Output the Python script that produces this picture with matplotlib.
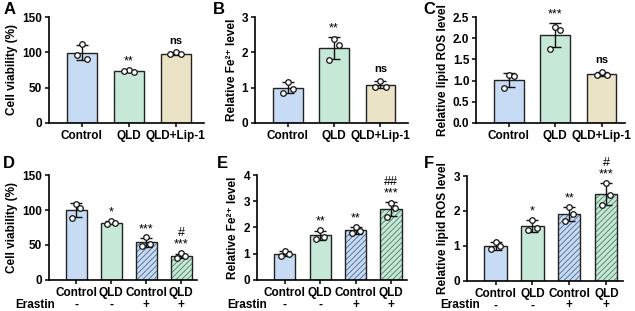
import numpy as np
import matplotlib
matplotlib.use("Agg")
import matplotlib.pyplot as plt

plt.rcParams['font.family'] = ['Liberation Sans', 'DejaVu Sans']
plt.rcParams['font.weight'] = 'bold'
plt.rcParams['axes.labelweight'] = 'bold'
plt.rcParams['hatch.linewidth'] = 0.7

# ---- data ----
groups_top = ['Control', 'QLD', 'QLD+Lip-1']
groups_bot = ['Control', 'QLD', 'Control', 'QLD']
erastin = ['-', '-', '+', '+']

a_pts = [[112, 91, 96], [75, 72, 73], [100, 97, 98]]
b_pts = [[1.17, 0.97, 0.85], [2.38, 2.22, 1.78], [1.20, 1.03, 1.02]]
c_pts = [[1.12, 1.10, 0.82], [2.27, 2.20, 1.75], [1.20, 1.13, 1.13]]
d_pts = [[109, 103, 89], [84, 81, 80], [61, 52, 48], [38, 34, 32]]
e_pts = [[1.12, 1.00, 0.90], [1.90, 1.65, 1.55], [2.03, 1.85, 1.78], [2.92, 2.75, 2.40]]
f_pts = [[1.12, 1.00, 0.90], [1.75, 1.50, 1.45], [2.12, 1.90, 1.72], [2.80, 2.45, 2.17]]

a_sig = ['', '**', 'ns']
b_sig = ['', '**', 'ns']
c_sig = ['', '***', 'ns']
d_sig = ['', '*', '***', '#\n***']
e_sig = ['', '**', '**', '##\n***']
f_sig = ['', '*', '**', '#\n***']

blue = '#c8dbf4'
green = '#c6e8d6'
beige = '#ebe3c6'
top_colors = [blue, green, beige]
bot_colors = [blue, green, blue, green]
bot_hatch = [None, None, '#5a7699', '#5b8a6e']
offsets = [0.0, 0.11, -0.11]
fe_label = 'Relative Fe\u00b2\u207a level'


def panel(ax, pts, labels, colors, sig, ylim, yticks, ylabel, width, xlim,
          hatch=None, yfmt=None):
    x = np.arange(len(pts))
    means = [np.mean(p) for p in pts]
    sds = [np.std(p, ddof=1) for p in pts]
    for i in range(len(pts)):
        if hatch is not None and hatch[i] is not None:
            ax.bar(x[i], means[i], width, color=colors[i], edgecolor=hatch[i],
                   linewidth=0, hatch='//////', zorder=1)
            ax.bar(x[i], means[i], width, fill=False, edgecolor='#222222',
                   linewidth=1.0, zorder=2)
        else:
            ax.bar(x[i], means[i], width, color=colors[i], edgecolor='#222222',
                   linewidth=1.0, zorder=2)
    ax.errorbar(x, means, yerr=sds, fmt='none', ecolor='#111111',
                elinewidth=1.0, capsize=4, capthick=1.0, zorder=3)
    for i, p in enumerate(pts):
        ax.plot(x[i] + np.array(offsets[:len(p)]), p, 'o', ms=4, mfc='white',
                mec='#111111', mew=0.9, zorder=4)
    for i, s in enumerate(sig):
        if not s:
            continue
        top = means[i] + sds[i]
        if s == 'ns':
            ax.annotate(s, (x[i], top), xytext=(0, 5), textcoords='offset points',
                        ha='center', va='bottom', fontsize=8, fontweight='bold')
        else:
            ax.annotate(s, (x[i], top), xytext=(0, 2), textcoords='offset points',
                        ha='center', va='bottom', fontsize=9, fontweight='normal',
                        linespacing=1.0)
    ax.set_ylim(*ylim)
    ax.set_yticks(yticks)
    if yfmt:
        ax.set_yticklabels([yfmt.format(t) for t in yticks])
    ax.set_xlim(*xlim)
    ax.set_xticks(x)
    ax.set_xticklabels(labels)
    ax.set_ylabel(ylabel, fontsize=8.5, labelpad=3)
    for s in ['top', 'right']:
        ax.spines[s].set_visible(False)
    for s in ['left', 'bottom']:
        ax.spines[s].set_linewidth(1.2)
    ax.tick_params(axis='both', labelsize=8.5, width=1.1, length=3, pad=2)
    for t in ax.get_xticklabels() + ax.get_yticklabels():
        t.set_fontweight('bold')


fig = plt.figure(figsize=(6.35, 3.11), dpi=100)

axA = fig.add_axes([0.077, 0.605, 0.244, 0.34])
axB = fig.add_axes([0.402, 0.605, 0.241, 0.34])
axC = fig.add_axes([0.750, 0.605, 0.234, 0.34])
axD = fig.add_axes([0.077, 0.10, 0.233, 0.337])
axE = fig.add_axes([0.405, 0.10, 0.236, 0.337])
axF = fig.add_axes([0.735, 0.097, 0.246, 0.337])

panel(axA, a_pts, groups_top, top_colors, a_sig, (0, 150), [0, 50, 100, 150],
      'Cell viability (%)', 0.64, (-0.7, 2.6))
panel(axB, b_pts, groups_top, top_colors, b_sig, (0, 3), [0, 1, 2, 3],
      fe_label, 0.64, (-0.7, 2.6))
panel(axC, c_pts, groups_top, top_colors, c_sig, (0, 2.5),
      [0, 0.5, 1.0, 1.5, 2.0, 2.5], 'Relative lipid ROS level', 0.64,
      (-0.7, 2.5), yfmt='{:.1f}')
panel(axD, d_pts, groups_bot, bot_colors, d_sig, (0, 150), [0, 50, 100, 150],
      'Cell viability (%)', 0.6, (-0.78, 3.45), hatch=bot_hatch)
panel(axE, e_pts, groups_bot, bot_colors, e_sig, (0, 4), [0, 1, 2, 3, 4],
      fe_label, 0.6, (-0.78, 3.45), hatch=bot_hatch)
panel(axF, f_pts, groups_bot, bot_colors, f_sig, (0, 3), [0, 1, 2, 3],
      'Relative lipid ROS level', 0.6, (-0.78, 3.45), hatch=bot_hatch)

for ax, ex in [(axD, -0.095), (axE, -0.07), (axF, -0.045)]:
    tr = ax.get_xaxis_transform()
    for i, e in enumerate(erastin):
        ax.text(i, -0.235, e, transform=tr, ha='center', va='center',
                fontsize=8.5, fontweight='bold')
    ax.text(ex, -0.235, 'Erastin', transform=ax.transAxes, ha='center',
            va='center', fontsize=8.5, fontweight='bold')

for lab, xx, yy in [('A', 0.005, 0.995), ('B', 0.335, 0.995), ('C', 0.666, 0.995),
                    ('D', 0.005, 0.5), ('E', 0.341, 0.5), ('F', 0.668, 0.5)]:
    fig.text(xx, yy, lab, fontsize=12, fontweight='bold', va='top', ha='left')

fig.savefig('out.png', dpi=100)
